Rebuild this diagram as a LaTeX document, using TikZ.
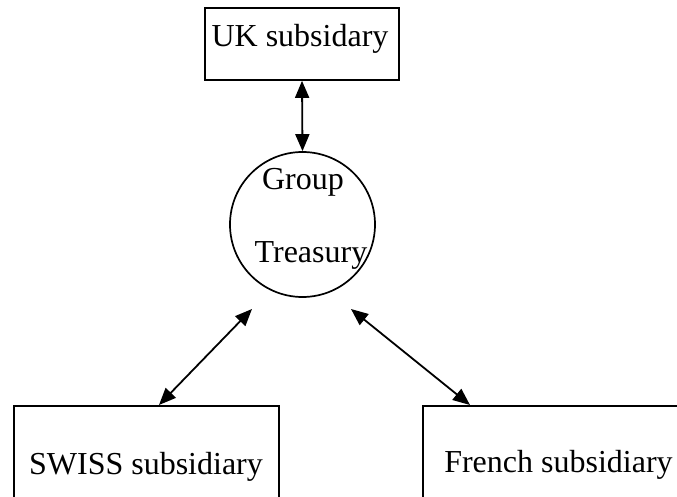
\documentclass[tikz,border=0pt]{standalone}
\usepackage{fontspec}
\setmainfont{Liberation Serif}
\usetikzlibrary{arrows.meta}
\tikzset{
	subbox/.style = {draw, line width=0.85pt, inner sep=0pt},
	txt/.style = {anchor=base, inner sep=0pt, font=\fontsize{16}{19}\selectfont},
	link/.style = {{Triangle[length=8.5pt,width=7pt]}-{Triangle[length=8.5pt,width=7pt]}, line width=0.9pt}
}
\begin{document}
\begin{tikzpicture}[x=0.5pt, y=-0.5pt]
	\useasboundingbox (0,0) rectangle (677,497);
	\clip (0,0) rectangle (677,497);
	% boxes and the circle
	\node[subbox, minimum width=97pt, minimum height=36pt] (uk) at (302,44) {};
	\node[txt] (uklabel) at (300,47) {UK subsidary};
	\node[draw, circle, line width=0.85pt, minimum size=72.5pt, inner sep=0pt] (gt) at (302.5,224.5) {};
	\node[txt] (gtlabela) at (303,190) {Group};
	\node[txt] (gtlabelb) at (311,263) {Treasury};
	\node[subbox, anchor=north west, minimum width=132.5pt, minimum height=90pt] (swiss) at (13,405) {};
	\node[txt] (swisslabel) at (146,475) {SWISS subsidiary};
	\node[subbox, anchor=north west, minimum width=160pt, minimum height=90pt] (french) at (422,405) {};
	\node[txt] (frenchlabel) at (558.5,473) {French subsidiary};
	% connectors
	\coordinate (gtsw) at (252,309);
	\coordinate (gtse) at (351,309);
	\coordinate (swisstop) at (159,405);
	\coordinate (frenchtop) at (470,405);
	\draw[link] (uk.south) -- (gt.north);
	\draw[link] (swisstop) -- (gtsw);
	\draw[link] (gtse) -- (frenchtop);
\end{tikzpicture}
\end{document}
